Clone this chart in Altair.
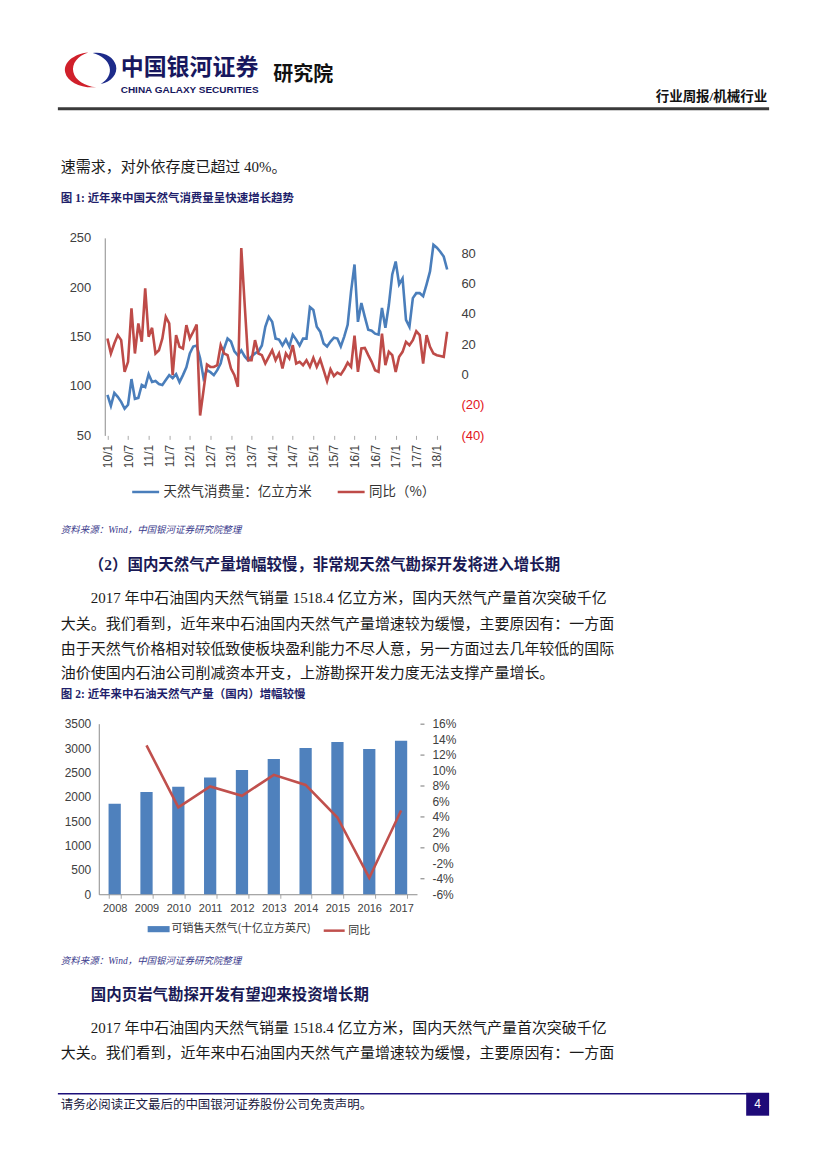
import altair as alt
import pandas as pd

# ---------------- data ----------------
# Figure 1: monthly, 2010/1 .. 2018/4
month_idx = list(range(100))
consumption = [91, 80, 93, 89, 84, 77, 81, 107, 87, 88,
               101, 99, 112, 104, 105, 102, 101, 106, 111, 108,
               112, 104, 111, 119, 133, 140, 141, 128, 108, 116,
               114, 111, 116, 123, 138, 148, 145, 135, 131, 136,
               130, 126, 130, 133, 135, 141, 160, 170, 165, 148,
               147, 141, 147, 140, 152, 147, 141, 148, 148, 180,
               177, 160, 155, 143, 140, 145, 149, 148, 140, 150,
               162, 196, 223, 165, 184, 170, 157, 156, 153, 152,
               179, 159, 182, 213, 226, 203, 209, 167, 160, 189,
               194, 194, 191, 203, 216, 243, 240, 236, 231, 218]
yoy = [23.8, 13.9, 20.5, 26, 22.7, 1.8, 8.4, 43.6, 13.9, 33.7,
       21.6, 56.8, 24.9, 30.8, 13.9, 16, 23.8, 38, 33.7, -0.4,
       26, 18.3, 17.2, 32.6, 23.8, 28.2, 33, -26.9, -10.4, 6.6,
       5.1, 5, 6.2, 19.4, 13.9, 12.8, 4, -0.4, -8, 83.3,
       45.8, 9.5, 9.5, 22.7, 13.9, 12.8, 7.3, 11.7, 16, 9.5,
       13.9, 4, 13.9, 10.6, 19.4, 7.3, 8.4, 6.2, 9.5, 5.1,
       11, 5.1, 10.1, 2.9, -4.4, 3.5, -0.9, 1.3, 0, 3.5,
       7.9, 5.1, 25.6, 1.8, 17.2, 17.6, 12.8, 8.4, 2.9, 1.8,
       27, 6.2, 15, 12.8, 1.8, 11.7, 15, 21.6, 19.4, 22.7,
       28.6, 26, 7.3, 26, 18.3, 13.9, 12.8, 12.3, 11.7, 28.2]
x1_tick_labels = ["10/1", "10/7", "11/1", "11/7", "12/1", "12/7", "13/1", "13/7", "14/1",
                  "14/7", "15/1", "15/7", "16/1", "16/7", "17/1", "17/7", "18/1"]
series1 = ["天然气消费量：亿立方米", "同比（%）"]

# Figure 2: yearly
years = ["2008", "2009", "2010", "2011", "2012", "2013", "2014", "2015", "2016", "2017"]
gas_output = [1855, 2100, 2205, 2395, 2550, 2775, 3000, 3125, 2980, 3150]
gas_growth = [None, 13.2, 5.2, 7.9, 6.7, 9.4, 8.1, 3.9, -3.9, 4.8]
series2 = ["可销售天然气(十亿立方英尺)", "同比"]

# ---------------- style ----------------
SANS = "Noto Sans CJK SC"
BODY = "Liberation Serif, Noto Sans CJK SC"
NUM = "Liberation Sans"
NAVY = "#1f1f6b"
INK = "#1a1a1a"
BLUE = "#4a7ebb"
RED = "#be4b48"
OX = 98          # common x origin (page px) of every band
PL, PR = 8, 819  # page content edges

one = pd.DataFrame({"k": [0]})


def txt(s, x, y, size=15, weight="normal", color=INK, font=BODY, align="left", italic=False):
    kw = dict(text=s, align=align, baseline="middle", fontSize=size,
              fontWeight=weight, font=font, color=color)
    if italic:
        kw["fontStyle"] = "italic"
    return alt.Chart(one).mark_text(**kw).encode(x=alt.value(x), y=alt.value(y))


def hline(xa, xb, y, color, w):
    return alt.Chart(one).mark_rule(color=color, strokeWidth=w).encode(
        x=alt.value(xa), x2=alt.value(xb), y=alt.value(y))


def pin(x, y):
    return alt.Chart(one).mark_point(filled=True, size=1, color="white", opacity=1).encode(
        x=alt.value(x), y=alt.value(y))


def glyph(path, x, y, size, color):
    return alt.Chart(one).mark_point(shape=path, filled=True, size=size, color=color,
                                     opacity=1, strokeWidth=0).encode(
        x=alt.value(x), y=alt.value(y))


# ---------------- band 1: header (page y 8..215) ----------------
T1, H1 = 8, 207
logo_red = "M0.15,-0.69 A1,0.69 0 0 0 0.45,0.62 A0.78,0.5 0 0 1 0.15,-0.69 Z"
logo_blue = "M0.32,-0.67 A1,0.69 0 0 1 0.62,0.5 A0.62,0.5 0 0 0 0.32,-0.67 Z"
band1 = alt.layer(
    pin(PL - OX, 0), pin(PR - OX, H1),
    glyph(logo_red, 83.5 - OX, 68.5 - T1, 2809, "#d0202b"),
    glyph(logo_blue, 83.5 - OX, 68.5 - T1, 2809, "#1d2b8a"),
    txt("中国银河证券", 120 - OX, 66 - T1, size=23, weight="bold", color="#17175e", font=SANS),
    txt("CHINA GALAXY SECURITIES", 120 - OX, 87.5 - T1, size=10, weight="bold", color="#17175e",
        font="Liberation Sans Narrow, Liberation Sans"),
    txt("研究院", 273 - OX, 73 - T1, size=20, weight="bold", color="#111111", font=SANS),
    txt("行业周报/机械行业", 768 - OX, 95 - T1, size=13.5, weight="bold", color="#111111", align="right"),
    hline(57 - OX, 770 - OX, 106.5 - T1, "#3a3a3a", 3),
    txt("速需求，对外依存度已超过 40%。", 60 - OX, 165 - T1, size=15),
    txt("图 1:  近年来中国天然气消费量呈快速增长趋势", 60 - OX, 197 - T1, size=11.5, weight="bold", color=NAVY),
).properties(width=300, height=H1)

# ---------------- band 2: figure 1 (page y 215..540, plot 98..450 x 234..432) ----------------
df1 = pd.DataFrame({"idx": month_idx, "cons": consumption, "yoy": yoy,
                    "s_cons": series1[0], "s_yoy": series1[1]})
x1_expr = "[" + ",".join("'" + s + "'" for s in x1_tick_labels) + "][round(datum.value/6)]"
x1 = alt.X("idx:Q", title=None,
           scale=alt.Scale(domain=[-2.53, 99.8], nice=False, zero=False),
           axis=alt.Axis(values=list(range(0, 97, 6)), labelExpr=x1_expr, labelAngle=270,
                         domain=False, ticks=True, tickSize=4, tickColor="#aaaaaa",
                         labelFontSize=12, labelPadding=5, grid=False))
legend1 = alt.Legend(orient="none", legendX=32, legendY=239.5, direction="horizontal",
                     title=None, symbolType="stroke", symbolSize=729,
                     symbolStrokeWidth=2.5, labelFont=SANS, labelFontSize=13.5,
                     labelColor="#333333", labelOffset=3, columnPadding=20,
                     labelLimit=400, padding=0)
scale1 = alt.Scale(domain=series1, range=[BLUE, RED])
line_blue = alt.Chart(df1).mark_line(strokeWidth=2.6).encode(
    x=x1,
    y=alt.Y("cons:Q", title=None, scale=alt.Scale(domain=[50, 250], nice=False, zero=False),
            axis=alt.Axis(orient="left", values=[50, 100, 150, 200, 250], domain=True,
                          domainColor="#8c8c8c", ticks=False, labelPadding=14, offset=-6,
                          labelFontSize=13, grid=False)),
    color=alt.Color("s_cons:N", legend=legend1, scale=scale1),
)
line_red = alt.Chart(df1).mark_line(strokeWidth=2.6).encode(
    x=x1,
    y=alt.Y("yoy:Q", title=None, scale=alt.Scale(domain=[-40, 90], nice=False, zero=False),
            axis=alt.Axis(orient="right", values=[-40, -20, 0, 20, 40, 60, 80], domain=False,
                          ticks=False, labelPadding=11, labelFontSize=13, grid=False,
                          labelExpr="datum.value < 0 ? '(' + abs(datum.value) + ')' : datum.value",
                          labelColor={"condition": {"test": "datum.value < 0", "value": "#e3151b"},
                                      "value": "#404040"})),
    color=alt.Color("s_yoy:N", legend=legend1, scale=scale1),
)
band2 = alt.layer(
    line_blue, line_red,
    pin(PL - OX, 215 - 234), pin(PR - OX, 540 - 234),
    txt("资料来源：Wind，中国银河证券研究院整理", 60 - OX, 527 - 234, size=9.5, color="#3a3a8c", italic=True),
).resolve_scale(y="independent").properties(width=352, height=198)

# ---------------- band 3: text (page y 540..700) ----------------
T3, H3 = 540, 160
para = ["2017 年中石油国内天然气销量 1518.4 亿立方米，国内天然气产量首次突破千亿",
        "大关。我们看到，近年来中石油国内天然气产量增速较为缓慢，主要原因有：一方面",
        "由于天然气价格相对较低致使板块盈利能力不尽人意，另一方面过去几年较低的国际",
        "油价使国内石油公司削减资本开支，上游勘探开发力度无法支撑产量增长。"]
band3 = alt.layer(
    pin(PL - OX, 0), pin(PR - OX, H3),
    txt("（2）国内天然气产量增幅较慢，非常规天然气勘探开发将进入增长期", 88 - OX, 560 - T3, size=15.5,
        weight="bold", color="#1a1a55"),
    txt(para[0], 90 - OX, 593 - T3), txt(para[1], 60 - OX, 619 - T3),
    txt(para[2], 60 - OX, 644 - T3), txt(para[3], 60 - OX, 668 - T3),
    txt("图 2:  近年来中石油天然气产量（国内）增幅较慢", 60 - OX, 690 - T3, size=11.5, weight="bold", color=NAVY),
).properties(width=300, height=H3)

# ---------------- band 4: figure 2 (page y 700..965, plot 98..417 x 717..888) ----------------
df2 = pd.DataFrame({"year": years, "gas": gas_output, "growth": gas_growth,
                    "s_bar": series2[0], "s_line": series2[1]})
x2 = alt.X("year:N", title=None, sort=years,
           scale=alt.Scale(paddingInner=0.615, paddingOuter=0.3075),
           axis=alt.Axis(labelAngle=0, domain=True, domainColor="#8c8c8c", ticks=True,
                         tickBand="extent", tickSize=4, tickColor="#aaaaaa",
                         labelFontSize=11, labelPadding=4, grid=False))
legend_bar = alt.Legend(orient="none", legendX=49, legendY=195, title=None,
                        symbolType="M-1,-0.28L1,-0.28L1,0.28L-1,0.28Z",
                        symbolSize=484, symbolStrokeWidth=0,
                        labelFont=SANS, labelFontSize=11, labelColor="#333333",
                        labelOffset=2, labelLimit=400, padding=0)
legend_line = alt.Legend(orient="none", legendX=224, legendY=195.5, title=None,
                         symbolType="stroke", symbolSize=441,
                         symbolStrokeWidth=2.5, labelFont=SANS,
                         labelFontSize=11, labelColor="#333333",
                         labelOffset=2, labelLimit=400, padding=0)
bars = alt.Chart(df2).mark_bar().encode(
    x=x2,
    y=alt.Y("gas:Q", title=None, scale=alt.Scale(domain=[0, 3500], nice=False),
            axis=alt.Axis(orient="left", values=list(range(0, 3501, 500)), domain=True,
                          domainColor="#8c8c8c", ticks=False, labelPadding=8, format="d",
                          labelFontSize=12, grid=False)),
    fill=alt.Fill("s_bar:N", scale=alt.Scale(domain=[series2[0]], range=["#4f81bd"]),
                  legend=legend_bar),
)
line2 = alt.Chart(df2).mark_line(strokeWidth=2.6).encode(
    x=x2,
    y=alt.Y("growth:Q", title=None, scale=alt.Scale(domain=[-6, 16], nice=False, zero=False),
            axis=alt.Axis(orient="right", values=list(range(-6, 17, 2)), domain=False,
                          offset=3, ticks=True, tickSize=4, tickColor="#777777",
                          tickOpacity={"condition": {"test": "datum.value % 4 == 0", "value": 1},
                                       "value": 0},
                          labelPadding=8, labelFontSize=12, grid=False,
                          labelExpr="datum.value + '%'")),
    stroke=alt.Stroke("s_line:N", scale=alt.Scale(domain=[series2[1]], range=["#c0504d"]),
                      legend=legend_line),
)
band4 = alt.layer(
    bars, line2,
    pin(PL - OX, 700 - 717), pin(PR - OX, 965 - 717),
    txt("资料来源：Wind，中国银河证券研究院整理", 60 - OX, 955 - 717, size=9.5, color="#3a3a8c", italic=True),
).resolve_scale(y="independent").properties(width=319, height=171)

# ---------------- band 5: text + footer (page y 965..1161) ----------------
T5, H5 = 965, 196
band5 = alt.layer(
    pin(PL - OX, 0), pin(PR - OX, H5),
    txt("国内页岩气勘探开发有望迎来投资增长期", 90 - OX, 987 - T5, size=15.5, weight="bold", color="#1a1a55"),
    txt(para[0], 90 - OX, 1020 - T5), txt(para[1], 60 - OX, 1045 - T5),
    hline(57 - OX, 748 - OX, 1086 - T5, "#1c0f7a", 1.5),
    txt("请务必阅读正文最后的中国银河证券股份公司免责声明。", 60 - OX, 1097 - T5, size=12.5, color="#1a1a40"),
    alt.Chart(one).mark_rect(color="#1e0a78").encode(
        x=alt.value(747 - OX), x2=alt.value(770 - OX), y=alt.value(1085 - T5), y2=alt.value(1108 - T5)),
    txt("4", 758.5 - OX, 1096.5 - T5, size=12, color="white", font=NUM, align="center"),
).properties(width=300, height=H5)

chart = alt.vconcat(band1, band2, band3, band4, band5, spacing=0).resolve_scale(
    color="independent", fill="independent", stroke="independent"
).properties(
    padding=0, background="white"
).configure_view(strokeWidth=0).configure_axis(
    labelFont=NUM, labelColor="#404040", grid=False
)

chart.save("out.html", embed_options={"renderer": "svg", "actions": False})
